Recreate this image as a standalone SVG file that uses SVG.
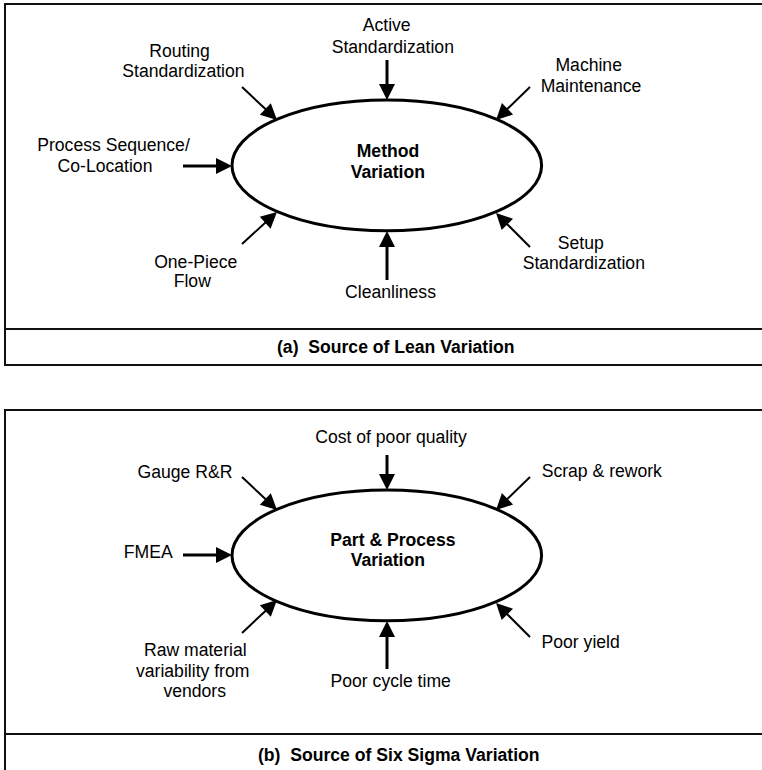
<svg xmlns="http://www.w3.org/2000/svg" width="762" height="770" viewBox="0 0 762 770">
<style>
text{font-family:"Liberation Sans",Arial,sans-serif;font-size:17.6px;fill:#000;text-anchor:middle}
.b{font-weight:bold}
.cap{font-weight:bold;text-anchor:start;white-space:pre}
.frame{fill:none;stroke:#111;stroke-width:2}
.sep{stroke:#111;stroke-width:2}
.ell{fill:#fff;stroke:#000;stroke-width:3}
.ax{stroke:#000;stroke-width:3;fill:none;marker-end:url(#ah)}
.dg{stroke:#000;stroke-width:2;fill:none;marker-end:url(#ah)}
</style>
<defs>
<marker id="ah" markerUnits="userSpaceOnUse" markerWidth="16" markerHeight="16" refX="6" refY="8" orient="auto" overflow="visible">
<path d="M0,0 L16,8 L0,16 Z" fill="#000"/>
</marker>
</defs>
<rect width="762" height="770" fill="#fff"/>

<g id="panel-a">
<rect class="frame" x="5" y="4" width="760" height="361"/>
<line class="sep" x1="5" y1="329" x2="765" y2="329"/>
<text class="cap" x="277" y="353" xml:space="preserve">(a)  Source of Lean Variation</text>
</g>
<g id="panel-b">
<rect class="frame" x="5" y="410" width="760" height="361"/>
<line class="sep" x1="5" y1="734" x2="765" y2="734"/>
<text class="cap" x="258" y="761" xml:space="preserve">(b)  Source of Six Sigma Variation</text>
</g>

<g id="connectors">
<line class="ax" x1="387" y1="60" x2="387" y2="90"/>
<line class="dg" x1="242" y1="87" x2="269.7" y2="113.1"/>
<line class="dg" x1="530" y1="87" x2="503.2" y2="113"/>
<line class="ax" x1="183" y1="166" x2="222" y2="166"/>
<line class="dg" x1="242" y1="244" x2="269.6" y2="218.7"/>
<line class="ax" x1="387" y1="280" x2="387" y2="241"/>
<line class="dg" x1="530" y1="247" x2="503.1" y2="220.1"/>

<line class="ax" x1="387" y1="455" x2="387" y2="480"/>
<line class="dg" x1="242" y1="477" x2="269.7" y2="503.1"/>
<line class="dg" x1="530" y1="477" x2="503.2" y2="503"/>
<line class="ax" x1="183" y1="555" x2="222" y2="555"/>
<line class="dg" x1="242" y1="633" x2="269.7" y2="606.9"/>
<line class="ax" x1="387" y1="669" x2="387" y2="631"/>
<line class="dg" x1="530" y1="637" x2="503.1" y2="610.1"/>
</g>

<g id="method-variation">
<ellipse class="ell" cx="386.8" cy="165.4" rx="154.8" ry="65.3"/>
<text class="b" x="388" y="156.7">Method</text>
<text class="b" x="387.8" y="178">Variation</text>
</g>
<g id="active-standardization">
<text x="386.7" y="31">Active</text>
<text x="392.8" y="52.5">Standardization</text>
</g>
<g id="routing-standardization">
<text x="179.6" y="57">Routing</text>
<text x="183.4" y="77">Standardization</text>
</g>
<g id="machine-maintenance">
<text x="588.7" y="71">Machine</text>
<text x="591" y="91.5">Maintenance</text>
</g>
<g id="process-sequence">
<text x="113.5" y="151">Process Sequence/</text>
<text x="105" y="171.5">Co-Location</text>
</g>
<g id="one-piece-flow">
<text x="195.7" y="268">One-Piece</text>
<text x="192.3" y="287">Flow</text>
</g>
<g id="cleanliness">
<text x="390.5" y="298">Cleanliness</text>
</g>
<g id="setup-standardization">
<text x="580.8" y="249">Setup</text>
<text x="583.8" y="269">Standardization</text>
</g>

<g id="part-process-variation">
<ellipse class="ell" cx="386.8" cy="555.4" rx="154.8" ry="65.3"/>
<text class="b" x="392.9" y="546">Part &amp; Process</text>
<text class="b" x="387.8" y="566">Variation</text>
</g>
<g id="cost-of-poor-quality">
<text x="391" y="443">Cost of poor quality</text>
</g>
<g id="gauge-rr">
<text x="185" y="478">Gauge R&amp;R</text>
</g>
<g id="scrap-rework">
<text x="601.8" y="477">Scrap &amp; rework</text>
</g>
<g id="fmea">
<text x="148.2" y="558">FMEA</text>
</g>
<g id="raw-material">
<text x="195.3" y="656">Raw material</text>
<text x="192.7" y="676.5">variability from</text>
<text x="194.7" y="697">vendors</text>
</g>
<g id="poor-cycle-time">
<text x="390.7" y="687">Poor cycle time</text>
</g>
<g id="poor-yield">
<text x="580.7" y="648">Poor yield</text>
</g>
</svg>
